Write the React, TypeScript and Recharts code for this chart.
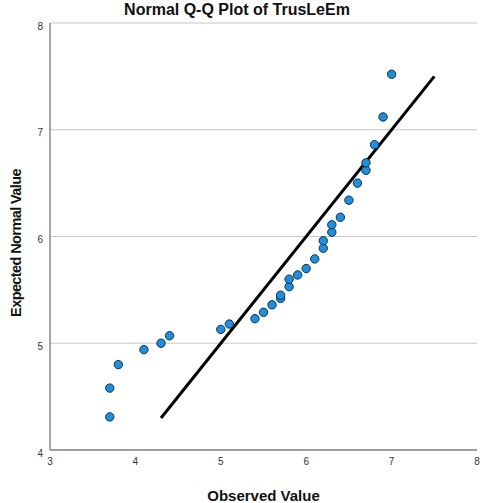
import { ScatterChart, Scatter, XAxis, YAxis, CartesianGrid, ReferenceLine, Label } from "recharts";

const observed = [3.7, 3.7, 3.8, 4.1, 4.3, 4.4, 5.0, 5.1, 5.4, 5.5, 5.6, 5.7, 5.7, 5.8, 5.8, 5.9, 6.0, 6.1, 6.2, 6.2, 6.3, 6.3, 6.4, 6.5, 6.6, 6.7, 6.7, 6.8, 6.9, 7.0];
const expected = [4.31, 4.58, 4.8, 4.94, 5.0, 5.07, 5.13, 5.18, 5.23, 5.29, 5.36, 5.42, 5.45, 5.53, 5.6, 5.64, 5.7, 5.79, 5.89, 5.96, 6.04, 6.11, 6.18, 6.34, 6.5, 6.62, 6.69, 6.86, 7.12, 7.52];
const xTicks = [3, 4, 5, 6, 7, 8];
const yTicks = [4, 5, 6, 7, 8];
const lineStart = 4.3;
const lineEnd = 7.5;

const points = observed.map((x, i) => ({ x, y: expected[i] }));

const font = "'Liberation Sans', Arial, sans-serif";

const Dot = (props: any) => (
  <circle cx={props.cx} cy={props.cy} r={4.2} fill="#1f8fdc" stroke="#10304d" strokeWidth={1} />
);

// rotated y-axis title, nudged a bit below the plot's middle like the original
const YTitle = () => (
  <text
    transform="translate(16,243) rotate(-90)"
    textAnchor="middle"
    dominantBaseline="central"
    style={{ fontSize: 14.5, fontWeight: "bold", fill: "#111", fontFamily: font, letterSpacing: -0.6 }}
  >
    Expected Normal Value
  </text>
);

export default function App() {
  return (
    <div style={{ position: "absolute", left: 0, top: 0, width: 480, height: 503, fontFamily: font, background: "#fff" }}>
      <div style={{ position: "absolute", top: 1, left: 0, width: 474, textAlign: "center", fontSize: 16, fontWeight: "bold", color: "#111" }}>
        Normal Q-Q Plot of TrusLeEm
      </div>
      <ScatterChart width={480} height={503} margin={{ top: 23, right: 3, bottom: 0, left: 0 }}>
        <CartesianGrid vertical={false} stroke="#c8c8c8" strokeWidth={1.2} />
        <XAxis
          type="number"
          dataKey="x"
          domain={[3, 8]}
          ticks={xTicks}
          height={53}
          tickLine={false}
          axisLine={{ stroke: "#888", strokeWidth: 1.5 }}
          tick={{ fontSize: 10, fill: "#333", fontFamily: font }}
          tickMargin={2}
        >
          <Label value="Observed Value" position="insideBottom" offset={2} style={{ fontSize: 15, fontWeight: "bold", fill: "#111", fontFamily: font }} />
        </XAxis>
        <YAxis
          type="number"
          dataKey="y"
          domain={[4, 8]}
          ticks={yTicks}
          width={50}
          tickLine={false}
          axisLine={{ stroke: "#888", strokeWidth: 1.5 }}
          tick={{ fontSize: 10, fill: "#333", fontFamily: font, dy: 3 }}
          tickMargin={1}
        >
          <Label content={YTitle} />
        </YAxis>
        <ReferenceLine
          segment={[{ x: lineStart, y: lineStart }, { x: lineEnd, y: lineEnd }]}
          stroke="#000"
          strokeWidth={3}
        />
        <Scatter data={points} shape={Dot} isAnimationActive={false} />
      </ScatterChart>
    </div>
  );
}
